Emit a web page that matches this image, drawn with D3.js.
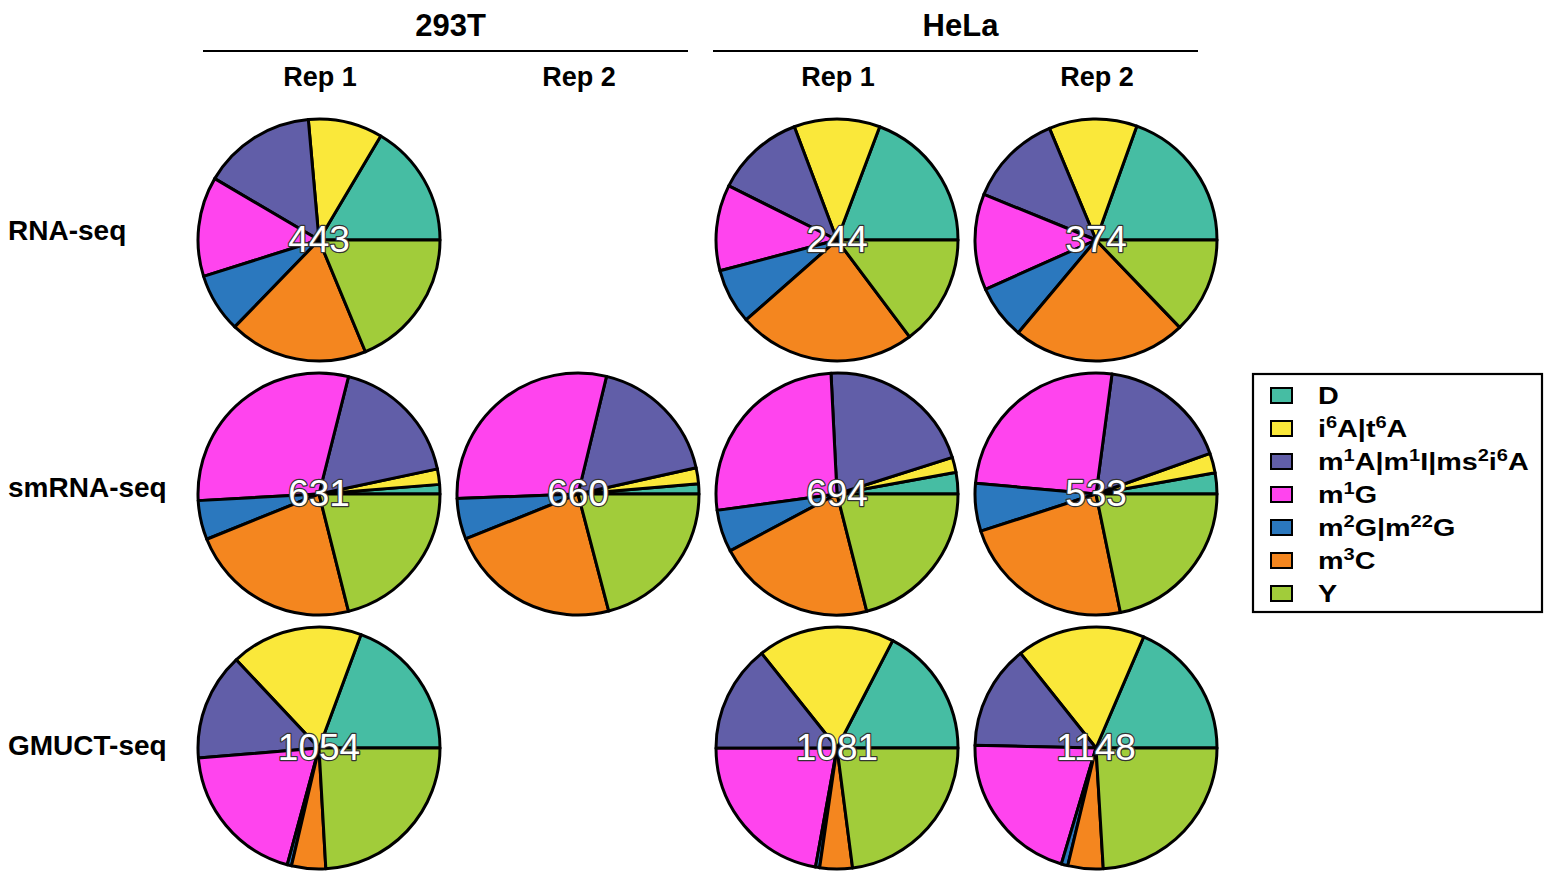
<!DOCTYPE html>
<html>
<head>
<meta charset="utf-8">
<script src="https://cdn.jsdelivr.net/npm/d3@7"></script>
<style>
  html, body { margin: 0; padding: 0; background: #fff; }
  svg { display: block; font-family: "Liberation Sans", Arial, sans-serif; }
</style>
</head>
<body>
<svg id="chart" width="1554" height="871"></svg>
<script>
// Modification classes, in pie order (counter-clockwise from 3 o'clock)
const modifications = ["D", "i6A|t6A", "m1A|m1I|ms2i6A", "m1G", "m2G|m22G", "m3C", "Y"];
const modColors = ["#46BDA3", "#FAE83A", "#615EA8", "#FF44EE", "#2B78BE", "#F4861F", "#A1CC3A"];

// Legend labels as [text, superscript?] runs
const legendRuns = [
  [["D", false]],
  [["i", false], ["6", true], ["A|t", false], ["6", true], ["A", false]],
  [["m", false], ["1", true], ["A|m", false], ["1", true], ["I|ms", false], ["2", true], ["i", false], ["6", true], ["A", false]],
  [["m", false], ["1", true], ["G", false]],
  [["m", false], ["2", true], ["G|m", false], ["22", true], ["G", false]],
  [["m", false], ["3", true], ["C", false]],
  [["Y", false]]
];

const cellLines = ["293T", "HeLa"];
const replicates = ["Rep 1", "Rep 2"];
const assays = ["RNA-seq", "smRNA-seq", "GMUCT-seq"];

// Site counts per modification class (order as in `modifications`)
const rnaseq_293T_rep1 = [73, 44, 67, 59, 35, 82, 83];
const rnaseq_293T_rep2 = null;
const rnaseq_HeLa_rep1 = [47, 28, 29, 28, 18, 58, 36];
const rnaseq_HeLa_rep2 = [73, 44, 47, 48, 27, 87, 48];
const smrna_293T_rep1 = [8, 13, 112, 188, 33, 144, 133];
const smrna_293T_rep2 = [9, 14, 117, 194, 36, 152, 138];
const smrna_HeLa_rep1 = [20, 14, 145, 183, 39, 147, 146];
const smrna_HeLa_rep2 = [15, 14, 93, 137, 34, 124, 116];
const gmuct_293T_rep1 = [204, 186, 151, 205, 6, 48, 254];
const gmuct_293T_rep2 = null;
const gmuct_HeLa_rep1 = [188, 198, 155, 239, 6, 47, 248];
const gmuct_HeLa_rep2 = [213, 197, 160, 238, 10, 54, 276];

const grid = [
  [rnaseq_293T_rep1, rnaseq_293T_rep2, rnaseq_HeLa_rep1, rnaseq_HeLa_rep2],
  [smrna_293T_rep1, smrna_293T_rep2, smrna_HeLa_rep1, smrna_HeLa_rep2],
  [gmuct_293T_rep1, gmuct_293T_rep2, gmuct_HeLa_rep1, gmuct_HeLa_rep2]
];

const svg = d3.select("#chart");

const columns = d3.range(4);
const x = d3.scalePoint().domain(columns).range([319, 1096]);
const y = d3.scalePoint().domain(assays).range([240, 748]);
const color = d3.scaleOrdinal().domain(modifications).range(modColors);
const radius = 121;

// Slices start at 3 o'clock and run counter-clockwise
const pie = d3.pie().sort(null).value(d => d.value)
  .startAngle(Math.PI / 2).endAngle(Math.PI / 2 - 2 * Math.PI);
const arc = d3.arc().innerRadius(0).outerRadius(radius);

// Cell line headers with a rule underneath
const headerSpan = [[203, 688], [713, 1198]];
cellLines.forEach((cl, i) => {
  const [left, right] = headerSpan[i];
  svg.append("line")
    .attr("x1", left).attr("x2", right).attr("y1", 51).attr("y2", 51)
    .attr("stroke", "#000").attr("stroke-width", 2.2);
  svg.append("text")
    .attr("x", (left + right) / 2 + 5).attr("y", 36)
    .attr("text-anchor", "middle").attr("font-weight", "bold")
    .attr("font-size", 31).text(cl);
  replicates.forEach((r, j) => {
    svg.append("text")
      .attr("x", x(i * 2 + j) + 1).attr("y", 86)
      .attr("text-anchor", "middle").attr("font-weight", "bold")
      .attr("font-size", 27).text(r);
  });
});

// Assay row labels
const rowLabelDy = [0, 3, 7];
assays.forEach((a, i) => {
  svg.append("text")
    .attr("x", 8).attr("y", y(a) + rowLabelDy[i])
    .attr("font-weight", "bold").attr("font-size", 28).text(a);
});

// Pies
grid.forEach((row, ri) => {
  row.forEach((counts, ci) => {
    if (!counts) return;
    const data = modifications.map((m, k) => ({ mod: m, value: counts[k] }));
    const total = d3.sum(counts);
    const g = svg.append("g")
      .attr("transform", `translate(${x(ci)},${y(assays[ri])})`);
    g.selectAll("path")
      .data(pie(data))
      .join("path")
      .attr("d", arc)
      .attr("fill", d => color(d.data.mod))
      .attr("stroke", "#000")
      .attr("stroke-width", 3)
      .attr("stroke-linejoin", "round");
    g.append("text")
      .attr("x", 0).attr("y", 12)
      .attr("text-anchor", "middle")
      .attr("font-size", 37)
      .attr("fill", "#fff")
      .attr("stroke", "#333")
      .attr("stroke-width", 2.4)
      .attr("paint-order", "stroke")
      .attr("stroke-linejoin", "round")
      .text(total);
  });
});

// Legend
const legend = svg.append("g").attr("transform", "translate(1253,374)");
legend.append("rect")
  .attr("x", 0).attr("y", 0).attr("width", 289).attr("height", 238)
  .attr("fill", "#fff").attr("stroke", "#000").attr("stroke-width", 2.2);
const ly = d3.scalePoint().domain(modifications).range([22, 220]);
modifications.forEach((m, i) => {
  const row = legend.append("g").attr("transform", `translate(0,${ly(m)})`);
  row.append("rect")
    .attr("x", 18).attr("y", -8).attr("width", 21).attr("height", 15)
    .attr("fill", color(m)).attr("stroke", "#000").attr("stroke-width", 2);
  const t = row.append("text")
    .attr("transform", "translate(65,8) scale(1.25,1)")
    .attr("font-weight", "bold").attr("font-size", 23);
  legendRuns[i].forEach(([s, sup]) => {
    const span = t.append("tspan").text(s);
    if (sup) span.attr("font-size", 16).attr("baseline-shift", "super");
  });
});
</script>
</body>
</html>
